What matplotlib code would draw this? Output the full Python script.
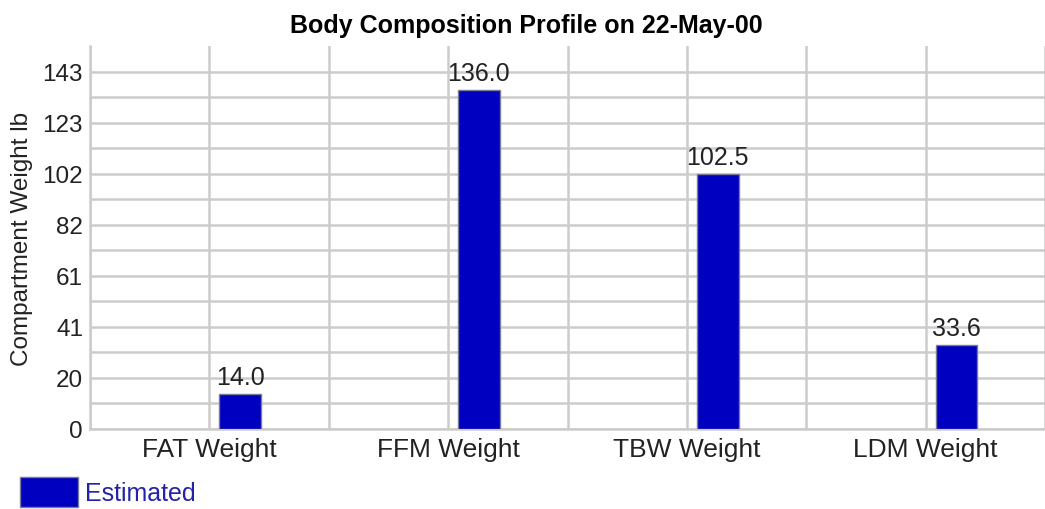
import numpy as np
import matplotlib
matplotlib.use('Agg')
import matplotlib.pyplot as plt
from matplotlib.patches import Patch

categories = ['FAT Weight', 'FFM Weight', 'TBW Weight', 'LDM Weight']
estimated = [14.0, 136.0, 102.5, 33.6]
tick_step = 20.5
title = 'Body Composition Profile on 22-May-00'
ylabel = 'Compartment Weight lb'

plt.rcParams['font.family'] = ['Liberation Sans', 'DejaVu Sans']

fig = plt.figure(figsize=(10.45, 5.1), dpi=100)
ax = fig.add_axes([90 / 1045, 1 - 430 / 510, 955 / 1045, 383 / 510])

x = np.arange(len(categories))
bars = ax.bar(x + 0.129, estimated, width=0.175, color='#0000c0',
              edgecolor='#7a7a9a', linewidth=1, zorder=3)
for b, v in zip(bars, estimated):
    ax.text(b.get_x() + b.get_width() / 2, v + 2.0, '%.1f' % v,
            ha='center', va='bottom', fontsize=18, color='#222222')

ymax = tick_step * 7.5
ax.set_ylim(0, ymax)
ax.set_xlim(-0.5, 3.5 - 5 / 240)

major = [tick_step * i for i in range(8)]
ax.set_yticks(major)
ax.set_yticklabels([str(int(t)) for t in major])
ax.set_yticks([tick_step * (i + 0.5) for i in range(7)], minor=True)
ax.set_xticks(x)
ax.set_xticklabels(categories)
ax.set_xticks([i + 0.5 for i in range(-1, 4)], minor=True)

ax.grid(True, which='both', color='#cccccc', linewidth=1.8, zorder=0)
ax.set_axisbelow(True)
ax.tick_params(which='both', length=0, colors='#222222')
ax.tick_params(axis='y', labelsize=17.5, pad=5)
ax.tick_params(axis='x', labelsize=19, pad=6)
for s in ['top', 'right']:
    ax.spines[s].set_visible(False)
for s in ['left', 'bottom']:
    ax.spines[s].set_color('#cccccc')
    ax.spines[s].set_linewidth(1.8)

ax.set_ylabel(ylabel, fontsize=17.5, color='#222222', labelpad=7)
fig.text(526 / 1045, 1 - 26 / 510, title, ha='center', va='center',
         fontsize=18, fontweight='bold', color='#000000')

leg = fig.legend(handles=[Patch(facecolor='#0000c0', edgecolor='#7a7a9a', label='Estimated')],
                 loc='lower left', bbox_to_anchor=(20 / 1045, 2 / 510), frameon=False,
                 borderpad=0, borderaxespad=0, fontsize=18, handlelength=2.3,
                 handleheight=1.45, handletextpad=0.3)
for t in leg.get_texts():
    t.set_color('#2222aa')

fig.savefig('out.png', dpi=100)
